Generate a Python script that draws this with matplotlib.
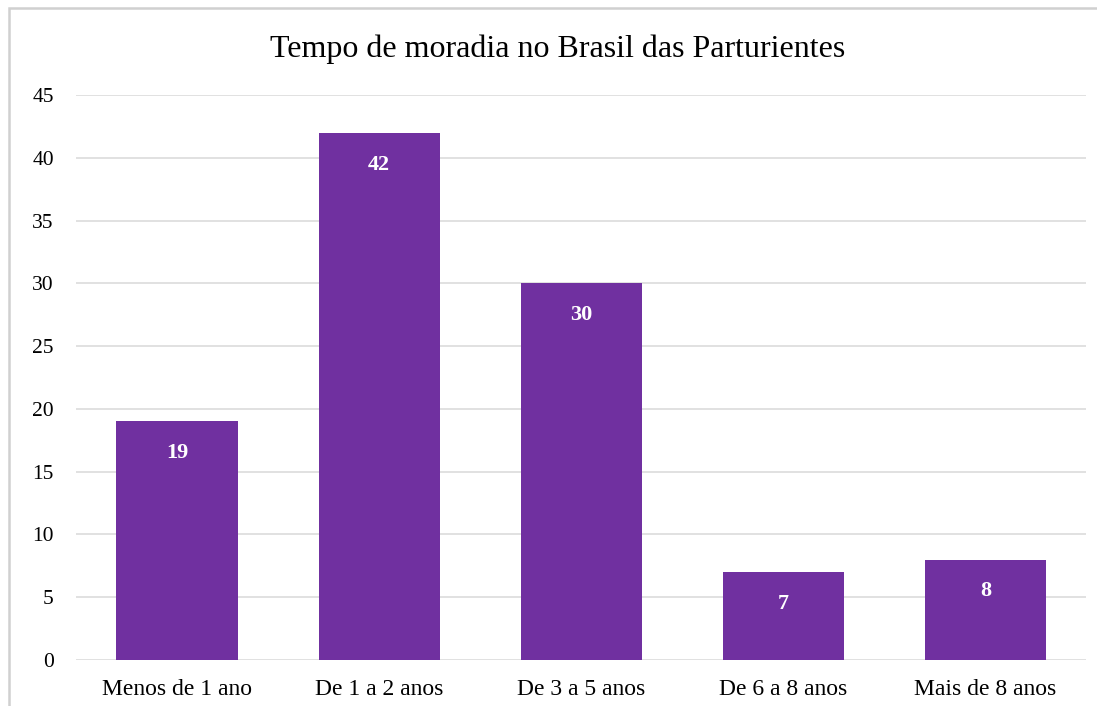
import matplotlib
matplotlib.use('Agg')
import matplotlib.pyplot as plt
from matplotlib.patches import Rectangle

plt.rcParams['font.family'] = ['Liberation Serif', 'DejaVu Serif']

categories = ['Menos de 1 ano', 'De 1 a 2 anos', 'De 3 a 5 anos', 'De 6 a 8 anos', 'Mais de 8 anos']
values = [19, 42, 30, 7, 8]
yticks = [0, 5, 10, 15, 20, 25, 30, 35, 40, 45]

fig = plt.figure(figsize=(10.97, 7.06), dpi=100)
ax = fig.add_axes([0.0693, 0.0652, 0.921, 0.8003])

# chart border
fig.patches.append(Rectangle((9 / 1097, -0.01), 1.0, 1 - 8 / 706 + 0.01, transform=fig.transFigure,
                             fill=False, edgecolor='#d0d0d0', linewidth=1.8))

x = range(len(categories))
bars = ax.bar(x, values, width=0.6, color='#7030a0', zorder=3)
for b, v in zip(bars, values):
    ax.annotate(str(v), (b.get_x() + b.get_width() / 2, v), xytext=(0, -23),
                textcoords='offset points', ha='center', va='center',
                color='white', fontweight='bold', fontsize=16)

ax.set_xlim(-0.5, len(categories) - 0.5)
ax.set_ylim(0, 45)
ax.set_yticks(yticks)
ax.set_xticks(list(x))
ax.set_xticklabels(categories)
ax.tick_params(axis='both', length=0, labelsize=15.5, colors='black')
ax.tick_params(axis='y', pad=16)
ax.tick_params(axis='x', pad=14, labelsize=17)
ax.grid(axis='y', color='#dcdcdc', linewidth=1.2, zorder=0)
for s in ax.spines.values():
    s.set_visible(False)

fig.text(0.508, 0.93, 'Tempo de moradia no Brasil das Parturientes', ha='center', va='center',
         fontsize=23)

fig.savefig('out.png', dpi=100, facecolor='white')
